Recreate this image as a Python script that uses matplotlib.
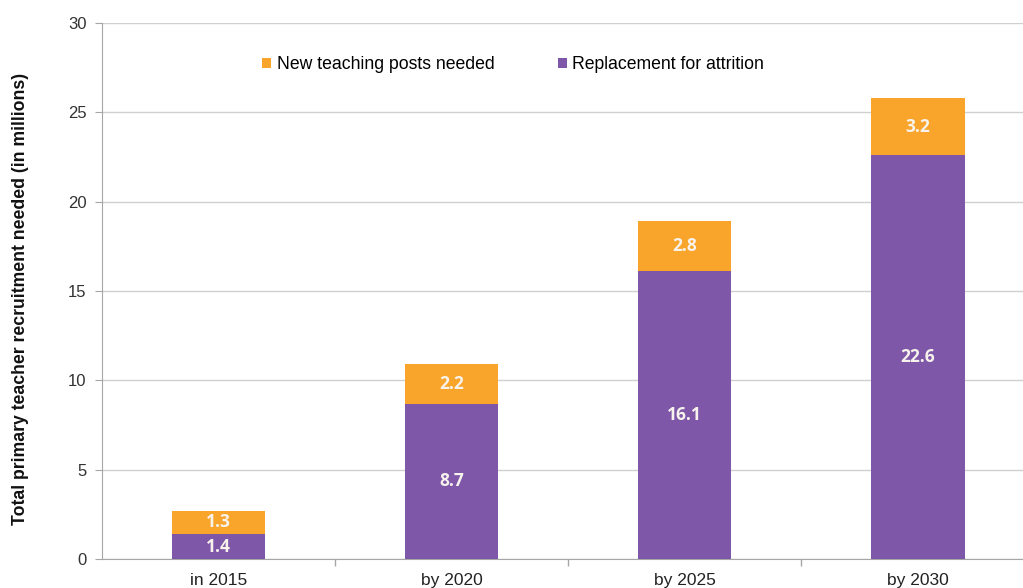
import matplotlib.pyplot as plt

periods = ["in 2015", "by 2020", "by 2025", "by 2030"]
replacement = [1.4, 8.7, 16.1, 22.6]
new_posts = [1.3, 2.2, 2.8, 3.2]

purple = "#7E57A9"
orange = "#F9A52C"

plt.rcParams["font.family"] = ["Liberation Sans", "DejaVu Sans"]

fig = plt.figure(figsize=(10.23, 5.88), dpi=100)
ax = fig.add_axes([0.0997, 0.0493, 0.9115, 0.9116])

x = range(len(periods))
b1 = ax.bar(x, replacement, width=0.4, color=purple, label="Replacement for attrition", zorder=3)
b2 = ax.bar(x, new_posts, width=0.4, bottom=replacement, color=orange,
            label="New teaching posts needed", zorder=3)

for i in x:
    ax.text(i, replacement[i] / 2, f"{replacement[i]:.1f}", ha="center", va="center",
            color="#F7F3EC", fontsize=12.5, fontweight="bold", family="Open Sans", zorder=4)
    ax.text(i, replacement[i] + new_posts[i] / 2, f"{new_posts[i]:.1f}", ha="center", va="center",
            color="#F7F3EC", fontsize=12.5, fontweight="bold", family="Open Sans", zorder=4)

ax.set_xlim(-0.5, len(periods) - 0.5)
ax.set_ylim(0, 30)
ax.set_yticks(range(0, 31, 5))
ax.set_xticks(x)
ax.set_xticklabels(periods)
ax.set_xticks([i + 0.5 for i in range(len(periods) - 1)], minor=True)
ax.tick_params(axis="x", which="major", length=0, labelsize=12.5, colors="#222222", pad=10)
ax.tick_params(axis="x", which="minor", length=5, color="#A6A6A6", width=1)
ax.tick_params(axis="y", length=5, color="#A6A6A6", labelsize=12, labelcolor="#333333", pad=6)

ax.grid(axis="y", color="#D0D0D0", linewidth=1, zorder=0)
for side in ["top", "right"]:
    ax.spines[side].set_visible(False)
ax.spines["left"].set_color("#A6A6A6")
ax.spines["bottom"].set_color("#A6A6A6")

ax.set_ylabel("Total primary teacher recruitment needed (in millions)", fontsize=12.7,
              fontweight="bold", color="#111111")
ax.yaxis.set_label_coords(-0.078, 0.485)

ax.legend(handles=[b2, b1], loc="upper left", bbox_to_anchor=(0.155, 0.968), ncol=2,
          frameon=False, fontsize=12.7, handlelength=0.5, handleheight=0.5,
          handletextpad=0.3, columnspacing=3.6)

fig.savefig("out.png", dpi=100)
